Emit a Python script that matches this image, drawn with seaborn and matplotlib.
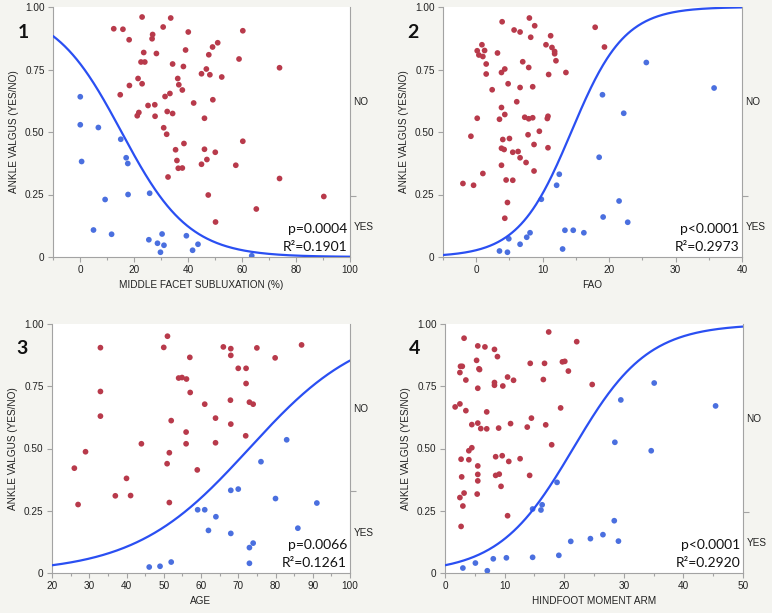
import numpy as np
import pandas as pd
import matplotlib
matplotlib.use("Agg")
import matplotlib.pyplot as plt
from matplotlib.ticker import MultipleLocator, FixedLocator
import seaborn as sns

# ---- panel 1: middle facet subluxation ----
p1_no_x = [12.5, 15.9, 23.0, 33.6, 30.8, 18.2, 26.9, 26.7, 40.1, 60.3, 51.0, 49.1, 39.1, 23.6, 28.3, 47.7,
           58.9, 22.6, 24.0, 34.3, 38.3, 73.9, 46.8, 45.0, 48.1, 52.5, 21.5, 36.2, 23.0, 18.3, 36.6, 37.9,
           33.3, 14.9, 31.5, 49.2, 42.1, 25.2, 27.7, 32.3, 34.3, 21.8, 21.2, 27.8, 46.1, 31.0, 32.1, 60.3,
           38.5, 46.1, 35.4, 50.1, 35.9, 47.0, 45.0, 57.7, 36.4, 37.9, 32.6, 73.9, 47.5, 90.3, 65.3, 50.2]
p1_no_y = [0.913, 0.911, 0.960, 0.956, 0.920, 0.869, 0.890, 0.873, 0.900, 0.905, 0.857, 0.840, 0.828, 0.818,
           0.814, 0.809, 0.792, 0.780, 0.780, 0.772, 0.762, 0.757, 0.752, 0.733, 0.729, 0.720, 0.714, 0.714,
           0.693, 0.686, 0.689, 0.668, 0.654, 0.649, 0.642, 0.629, 0.616, 0.606, 0.609, 0.582, 0.574, 0.578,
           0.565, 0.563, 0.555, 0.517, 0.491, 0.463, 0.454, 0.431, 0.429, 0.419, 0.386, 0.390, 0.371, 0.367,
           0.355, 0.356, 0.320, 0.314, 0.248, 0.242, 0.192, 0.140]
p1_yes_x = [0.1, 0.1, 6.8, 0.6, 15.1, 17.1, 17.7, 17.8, 9.3, 25.8, 5.0, 11.7, 25.5, 28.7, 30.4, 31.1, 29.8,
            39.4, 43.7, 41.7, 63.6]
p1_yes_y = [0.641, 0.529, 0.518, 0.382, 0.471, 0.397, 0.374, 0.250, 0.230, 0.255, 0.108, 0.091, 0.069, 0.055,
            0.092, 0.047, 0.019, 0.085, 0.051, 0.027, 0.005]

# ---- panel 2: FAO ----
p2_no_x = [-2.0, -0.4, -0.8, 1.0, 0.15, 0.15, 0.4, 0.86, 1.0, 1.26, 1.5, 1.5, 2.4, 3.2, 3.9, 3.8, 4.3, 3.8,
           3.5, 4.3, 4.8, 3.8, 4.0, 4.2, 5.0, 3.8, 4.5, 5.5, 4.7, 4.3, 5.7, 6.6, 7.0, 6.1, 6.6, 5.5, 6.3, 6.6,
           7.5, 7.3, 7.9, 8.5, 7.8, 7.9, 8.0, 8.8, 8.2, 8.5, 8.7, 8.7, 9.5, 10.8, 10.7, 10.8, 10.9, 10.5,
           11.2, 11.4, 11.8, 11.8, 12.0, 13.5, 17.9, 19.3]
p2_no_y = [0.294, 0.287, 0.483, 0.334, 0.555, 0.825, 0.808, 0.849, 0.802, 0.826, 0.772, 0.732, 0.669, 0.816,
           0.941, 0.738, 0.752, 0.598, 0.551, 0.570, 0.693, 0.435, 0.470, 0.430, 0.474, 0.367, 0.308, 0.307,
           0.218, 0.155, 0.908, 0.900, 0.781, 0.621, 0.678, 0.419, 0.422, 0.397, 0.378, 0.559, 0.553, 0.557,
           0.489, 0.758, 0.956, 0.925, 0.879, 0.681, 0.450, 0.344, 0.503, 0.437, 0.554, 0.563, 0.730, 0.849,
           0.885, 0.838, 0.822, 0.813, 0.785, 0.738, 0.919, 0.840]
p2_yes_x = [3.5, 4.7, 4.9, 6.6, 7.6, 8.1, 9.8, 12.1, 12.5, 13.0, 13.35, 14.6, 16.2, 18.5, 19.0, 19.1, 21.5,
            22.2, 22.8, 25.6, 35.8]
p2_yes_y = [0.024, 0.019, 0.073, 0.051, 0.079, 0.097, 0.231, 0.287, 0.331, 0.032, 0.107, 0.107, 0.097, 0.399,
            0.649, 0.160, 0.224, 0.575, 0.139, 0.778, 0.676]

# ---- panel 3: age ----
p3_no_x = [26.0, 27.0, 29.0, 33.0, 33.0, 33.0, 37.0, 40.0, 41.1, 44.0, 50.0, 51.0, 50.9, 51.5, 52.0, 51.5,
           54.0, 54.9, 56.1, 57.0, 57.1, 56.0, 56.0, 59.0, 61.0, 63.9, 63.9, 66.0, 68.0, 68.0, 67.9, 68.0,
           70.0, 72.1, 72.1, 73.0, 74.0, 72.0, 75.0, 79.9, 87.0]
p3_no_y = [0.421, 0.275, 0.487, 0.905, 0.729, 0.630, 0.310, 0.380, 0.311, 0.519, 0.906, 0.951, 0.439, 0.483,
           0.612, 0.283, 0.783, 0.785, 0.779, 0.866, 0.725, 0.566, 0.519, 0.414, 0.678, 0.622, 0.523, 0.908,
           0.901, 0.874, 0.694, 0.598, 0.822, 0.822, 0.761, 0.686, 0.678, 0.551, 0.904, 0.864, 0.916]
p3_yes_x = [46.1, 49.0, 52.0, 59.1, 61.0, 62.0, 64.0, 68.0, 68.0, 70.0, 73.0, 74.0, 73.0, 76.1, 80.0, 83.0,
            86.0, 91.1]
p3_yes_y = [0.024, 0.027, 0.044, 0.254, 0.254, 0.171, 0.226, 0.332, 0.159, 0.337, 0.102, 0.120, 0.039, 0.447,
            0.299, 0.535, 0.180, 0.281]

# ---- panel 4: hindfoot moment arm ----
p4_no_x = [1.7, 2.5, 2.5, 2.6, 2.9, 3.2, 3.5, 3.5, 2.7, 2.8, 2.5, 3.0, 3.2, 2.7, 4.0, 4.5, 4.0, 4.5, 5.3,
           5.5, 5.7, 5.8, 5.5, 5.5, 6.0, 5.5, 5.5, 5.5, 5.4, 6.7, 7.0, 7.0, 8.3, 8.8, 8.3, 8.3, 9.0, 8.5,
           8.5, 9.1, 9.4, 9.7, 9.6, 10.5, 10.7, 11.0, 11.5, 10.5, 12.6, 13.8, 14.3, 14.5, 14.2, 16.5, 16.7,
           16.9, 17.4, 17.9, 19.4, 19.7, 20.1, 20.7, 22.1, 24.7]
p4_no_y = [0.667, 0.679, 0.805, 0.830, 0.830, 0.943, 0.775, 0.652, 0.457, 0.386, 0.303, 0.269, 0.321, 0.187,
           0.491, 0.503, 0.455, 0.596, 0.854, 0.912, 0.820, 0.817, 0.742, 0.602, 0.580, 0.430, 0.396, 0.370,
           0.317, 0.908, 0.647, 0.579, 0.898, 0.869, 0.765, 0.754, 0.582, 0.467, 0.392, 0.397, 0.348, 0.751,
           0.471, 0.787, 0.448, 0.600, 0.774, 0.230, 0.459, 0.586, 0.842, 0.622, 0.392, 0.777, 0.842, 0.595,
           0.968, 0.515, 0.663, 0.848, 0.850, 0.811, 0.929, 0.757]
p4_yes_x = [3.0, 5.1, 7.1, 8.1, 10.3, 14.7, 14.7, 16.1, 16.3, 19.1, 18.8, 21.1, 24.4, 26.5, 28.4, 29.1, 28.5,
            29.5, 34.6, 35.1, 45.4]
p4_yes_y = [0.020, 0.040, 0.009, 0.057, 0.061, 0.063, 0.257, 0.253, 0.274, 0.071, 0.364, 0.127, 0.138, 0.154,
            0.210, 0.128, 0.525, 0.695, 0.491, 0.763, 0.671]

panel_labels = ["1", "2", "3", "4"]
x_titles = ["MIDDLE FACET SUBLUXATION (%)", "FAO", "AGE", "HINDFOOT MOMENT ARM"]
x_limits = [(-10, 100), (-5, 40), (20, 100), (0, 50)]
x_steps = [20, 10, 10, 10]
# fitted logistic coefficients (intercept, slope)
fit_b0 = [1.23, -3.575, -4.74, -3.44]
fit_b1 = [-0.08, 0.25, 0.065, 0.16]
yes_share = [0.245, 0.245, 0.328, 0.246]
p_texts = ["p=0.0004", "p<0.0001", "p=0.0066", "p<0.0001"]
r2_texts = ["R²=0.1901", "R²=0.2973", "R²=0.1261", "R²=0.2920"]

# axes boxes in pixels: left, right, top, bottom
boxes = [(53, 350, 7, 257), (443, 742, 7, 257), (52, 350, 324, 573), (445, 743, 324, 573)]

W, H = 772, 613
RED = "#b83a4b"
BLUE = "#4a6fdf"
LINE = "#2a4ff2"
GRID = "#a3a3a3"
BG = "#f4f4f0"

sns.set_theme(style="white")
plt.rcParams["font.family"] = ["Liberation Sans", "DejaVu Sans"]


def draw_panel(fig, i, no_x, no_y, yes_x, yes_y):
    l, r, t, b = boxes[i]
    ax = fig.add_axes([l / W, (H - b) / H, (r - l) / W, (b - t) / H])
    ax.set_facecolor("white")

    df = pd.DataFrame({
        "x": list(no_x) + list(yes_x),
        "y": list(no_y) + list(yes_y),
        "outcome": ["NO"] * len(no_x) + ["YES"] * len(yes_x),
    })
    sns.scatterplot(data=df, x="x", y="y", hue="outcome", palette={"NO": RED, "YES": BLUE},
                    s=17, linewidth=0, legend=False, ax=ax, zorder=3)

    x0, x1 = x_limits[i]
    xs = np.linspace(x0, x1, 300)
    ps = 1 / (1 + np.exp(-(fit_b0[i] + fit_b1[i] * xs)))
    sns.lineplot(x=xs, y=ps, color=LINE, linewidth=1.6, ax=ax, zorder=4)

    ax.set_xlim(x0, x1)
    ax.set_ylim(0, 1)
    ax.xaxis.set_major_locator(MultipleLocator(x_steps[i]))
    ax.xaxis.set_minor_locator(MultipleLocator(x_steps[i] / 2))
    ax.set_yticks([0, 0.25, 0.5, 0.75, 1.0])
    ax.set_yticklabels(["0", "0.25", "0.50", "0.75", "1.00"])
    ax.tick_params(axis="both", which="major", direction="out", length=3.5, width=0.8,
                   color=GRID, labelsize=7.2, labelcolor="#222222", pad=2.5)
    ax.tick_params(axis="x", which="minor", direction="out", length=2, width=0.8, color=GRID, bottom=True)
    ax.tick_params(left=True, bottom=True)

    for side in ["left", "bottom"]:
        ax.spines[side].set_color(GRID)
        ax.spines[side].set_linewidth(0.8)
    ax.spines["top"].set_visible(False)
    ax.spines["right"].set_visible(False)

    ax.set_xlabel(x_titles[i], fontsize=7.2, color="#222222", labelpad=3)
    ax.set_ylabel("ANKLE VALGUS (YES/NO)", fontsize=7.2, color="#222222", labelpad=4)

    # categorical axis on the right
    tw = ax.twinx()
    tw.set_ylim(0, 1)
    share = yes_share[i]
    tw.yaxis.set_major_locator(FixedLocator([share]))
    tw.set_yticklabels([""])
    tw.yaxis.set_minor_locator(FixedLocator([share / 2, (1 + share) / 2]))
    tw.set_yticklabels(["YES", "NO"], minor=True)
    tw.tick_params(axis="y", which="major", direction="out", length=4, width=0.8, color=GRID, right=True)
    tw.tick_params(axis="y", which="minor", length=0, labelsize=7.2, labelcolor="#222222", pad=2.5)
    for side in ["left", "top", "bottom"]:
        tw.spines[side].set_visible(False)
    tw.spines["right"].set_color(GRID)
    tw.spines["right"].set_linewidth(0.8)

    ax.text(0.99, 0.112, p_texts[i], transform=ax.transAxes, ha="right", va="center",
            fontsize=10, family=["Lato", "DejaVu Sans"], color="#111111", zorder=5)
    ax.text(0.99, 0.04, r2_texts[i], transform=ax.transAxes, ha="right", va="center",
            fontsize=10, family=["Lato", "DejaVu Sans"], color="#111111", zorder=5)

    fig.text((l - 30) / W, 1 - (t + 25) / H, panel_labels[i], ha="center", va="center",
             fontsize=14, fontweight="bold", family=["Lato", "DejaVu Sans"], color="#111111")
    return ax


fig = plt.figure(figsize=(W / 100, H / 100), dpi=100, facecolor=BG)
draw_panel(fig, 0, p1_no_x, p1_no_y, p1_yes_x, p1_yes_y)
draw_panel(fig, 1, p2_no_x, p2_no_y, p2_yes_x, p2_yes_y)
draw_panel(fig, 2, p3_no_x, p3_no_y, p3_yes_x, p3_yes_y)
draw_panel(fig, 3, p4_no_x, p4_no_y, p4_yes_x, p4_yes_y)

fig.savefig("out.png", dpi=100, facecolor=BG)
plt.close(fig)
